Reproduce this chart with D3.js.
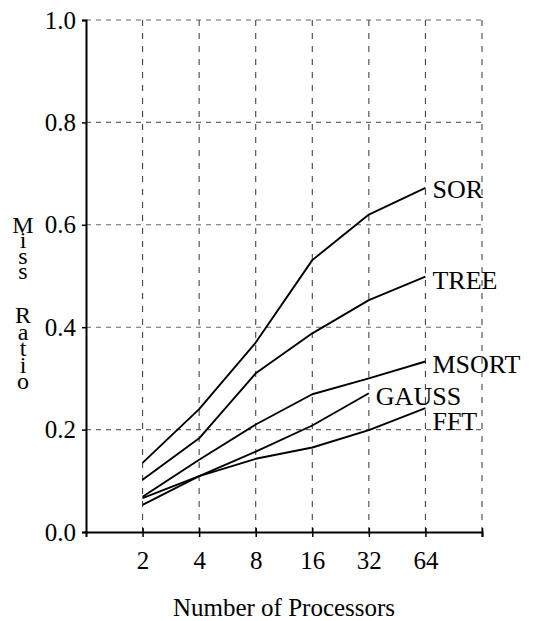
<!DOCTYPE html>
<html>
<head>
<meta charset="utf-8">
<script src="https://cdn.jsdelivr.net/npm/d3@7"></script>
<style>
  html, body { margin: 0; padding: 0; background: #fff; }
  svg text { font-family: "Liberation Serif", "Times New Roman", serif !important; fill: #000; }
</style>
</head>
<body>
<svg id="chart" width="540" height="621" style="font-family: 'Liberation Serif', 'Times New Roman', serif;"></svg>
<script>
// Processor counts on the x axis (log2 spaced)
const processors = [2, 4, 8, 16, 32, 64];
const xTickLabels = ["2", "4", "8", "16", "32", "64"];
const yTicks = [0, 0.2, 0.4, 0.6, 0.8, 1.0];

// Miss ratio per application
const sor   = [0.135, 0.240, 0.370, 0.531, 0.620, 0.672];
const tree  = [0.102, 0.183, 0.310, 0.388, 0.453, 0.499];
const msort = [0.069, 0.141, 0.210, 0.269, 0.300, 0.333];
const gauss = [0.066, 0.109, 0.157, 0.208, 0.271];
const fft   = [0.053, 0.109, 0.143, 0.165, 0.199, 0.242];

const seriesNames = ["SOR", "TREE", "MSORT", "GAUSS", "FFT"];
const seriesValues = [sor, tree, msort, gauss, fft];

// Vertical nudge of each end label relative to its line's last point
const labelDy = { SOR: 10, TREE: 12, MSORT: 11, GAUSS: 12, FFT: 22 };

const FONT = "'Liberation Serif', 'Times New Roman', serif";
const svg = d3.select("#chart");

const x = d3.scaleLog().base(2).domain([1, 128]).range([86, 482]);
const y = d3.scaleLinear().domain([0, 1]).range([532, 20]);

// Horizontal grid
svg.append("g")
  .selectAll("line")
  .data(yTicks.filter(v => v > 0))
  .join("line")
  .attr("x1", x(1)).attr("x2", x(128))
  .attr("y1", d => y(d)).attr("y2", d => y(d))
  .attr("stroke", "#666").attr("stroke-width", 1.1)
  .attr("stroke-dasharray", "5,5");

// Vertical grid (one per processor count plus the right edge)
svg.append("g")
  .selectAll("line")
  .data(processors.concat([128]))
  .join("line")
  .attr("x1", d => x(d)).attr("x2", d => x(d))
  .attr("y1", y(1)).attr("y2", y(0))
  .attr("stroke", "#444").attr("stroke-width", 1.1)
  .attr("stroke-dasharray", "6,7");

// Y axis
const yAxis = d3.axisLeft(y).tickValues(yTicks).tickFormat(d3.format(".1f"))
  .tickSize(4).tickPadding(6);
const gy = svg.append("g").attr("transform", `translate(${x(1)},0)`).call(yAxis)
  .attr("font-family", null).attr("font-size", null);
gy.select(".domain").attr("stroke", "#000").attr("stroke-width", 2);
gy.selectAll(".tick line").attr("stroke", "#000").attr("stroke-width", 1.5);
gy.selectAll(".tick text").style("font-size", "25px").style("font-family", FONT);

// X axis
const xAxis = d3.axisBottom(x).tickValues(processors.concat([128]))
  .tickFormat((d, i) => i < xTickLabels.length ? xTickLabels[i] : "")
  .tickSize(5).tickPadding(14);
const gx = svg.append("g").attr("transform", `translate(0,${y(0)})`).call(xAxis)
  .attr("font-family", null).attr("font-size", null);
gx.select(".domain").attr("stroke", "#000").attr("stroke-width", 2);
gx.selectAll(".tick line").attr("stroke", "#000").attr("stroke-width", 1.5).attr("y1", -4);
gx.selectAll(".tick text").style("font-size", "25px").style("font-family", FONT);

// Series lines
const line = d3.line()
  .x((d, i) => x(processors[i]))
  .y(d => y(d));

svg.append("g")
  .selectAll("path")
  .data(seriesValues)
  .join("path")
  .attr("d", d => line(d))
  .attr("fill", "none")
  .attr("stroke", "#000")
  .attr("stroke-width", 1.9)
  .attr("stroke-linejoin", "round");

// End labels
svg.append("g")
  .selectAll("text")
  .data(seriesNames)
  .join("text")
  .attr("x", (name, i) => x(processors[seriesValues[i].length - 1]) + 7)
  .attr("y", (name, i) => y(seriesValues[i][seriesValues[i].length - 1]) + labelDy[name])
  .style("font-size", "26px")
  .style("font-family", FONT)
  .text(d => d);

// X axis title
svg.append("text")
  .attr("x", 284).attr("y", 616)
  .attr("text-anchor", "middle")
  .style("font-size", "25px")
  .style("font-family", FONT)
  .text("Number of Processors");

// Y axis title, stacked letter by letter in a single text element
const yTitleWords = [
  { word: "Miss", start: 233, step: 15.3 },
  { word: "Ratio", start: 323, step: 16.6 }
];
const yTitle = svg.append("text")
  .attr("text-anchor", "middle")
  .style("font-size", "24px")
  .style("font-family", FONT);
yTitleWords.forEach(w => {
  w.word.split("").forEach((ch, i) => {
    yTitle.append("tspan")
      .attr("x", 23).attr("y", w.start + i * w.step)
      .text(ch);
  });
});
</script>
</body>
</html>
